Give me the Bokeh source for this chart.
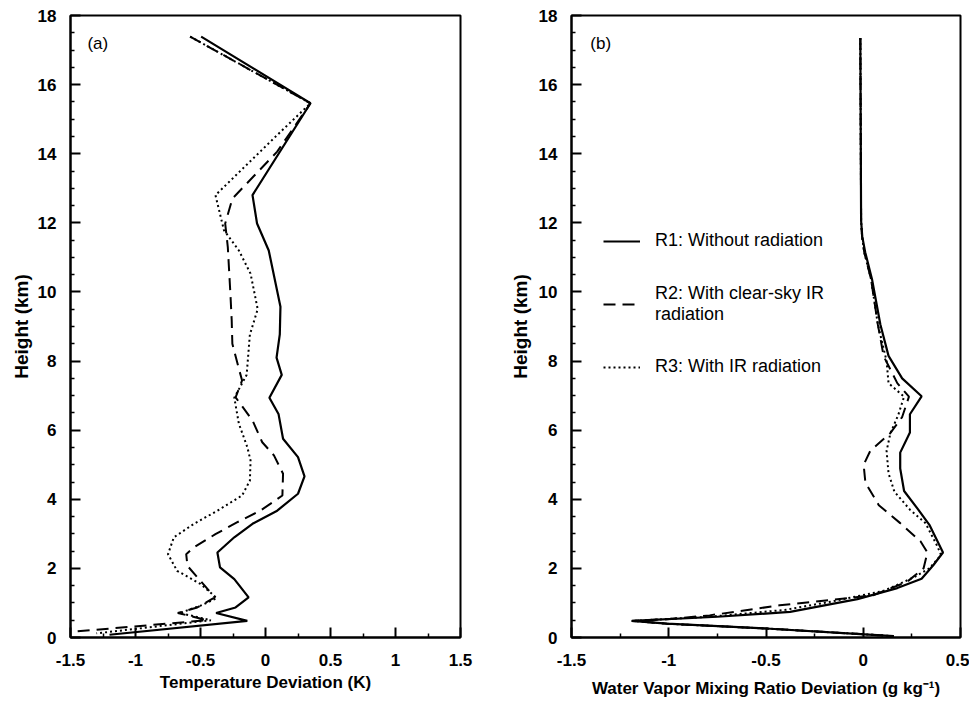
from bokeh.plotting import figure
from bokeh.layouts import row
from bokeh.models import FixedTicker, Legend, LegendItem, Label, Range1d
from bokeh.embed import file_html
from bokeh.resources import INLINE

FONT = "Liberation Sans"

# ---------------- Panel (a): temperature deviation (K) ----------------
a_r1_h = [17.39, 15.46, 12.8, 11.98, 11.2, 9.57, 8.77, 8.1, 7.6, 6.94, 6.47, 5.75, 5.22, 4.66,
          4.16, 3.67, 3.29, 2.90, 2.46, 2.03, 1.69, 1.16, 0.87, 0.71, 0.48, 0.08]
a_r1_x = [-0.495, 0.346, -0.10, -0.065, 0.025, 0.115, 0.11, 0.085, 0.125, 0.03, 0.10, 0.135, 0.25, 0.30,
          0.25, 0.09, -0.10, -0.24, -0.37, -0.35, -0.24, -0.13, -0.23, -0.38, -0.14, -1.2]

a_r2_h = [17.39, 15.46, 14.06, 12.7, 11.98, 11.3, 9.95, 9.18, 8.5, 7.85, 7.44, 6.95, 6.28, 5.65, 5.27,
          4.74, 4.11, 3.67, 3.33, 2.99, 2.61, 2.41, 2.07, 1.64, 1.16, 0.87, 0.71, 0.50, 0.17]
a_r2_x = [-0.58, 0.346, 0.09, -0.255, -0.31, -0.29, -0.27, -0.26, -0.255, -0.21, -0.18, -0.23, -0.10, -0.025, 0.065,
          0.135, 0.13, -0.04, -0.22, -0.385, -0.55, -0.61, -0.60, -0.50, -0.39, -0.525, -0.675, -0.45, -1.47]

a_r3_h = [17.39, 15.46, 14.54, 12.8, 11.79, 11.2, 10.53, 9.5, 8.77, 7.6, 6.94, 6.19, 5.51, 5.12, 4.54,
          4.11, 3.67, 3.29, 2.90, 2.41, 1.93, 1.55, 1.14, 0.92, 0.71, 0.50, 0.12]
a_r3_x = [-0.58, 0.346, 0.09, -0.385, -0.32, -0.205, -0.115, -0.06, -0.12, -0.145, -0.24, -0.205, -0.14, -0.115, -0.12,
          -0.18, -0.37, -0.55, -0.705, -0.75, -0.68, -0.50, -0.375, -0.50, -0.66, -0.42, -1.3]

# ---------------- Panel (b): water vapor mixing ratio deviation (g/kg) ----------------
b_r1_h = [17.35, 12.06, 11.6, 11.15, 10.37, 9.06, 8.15, 7.5, 6.98, 6.46, 5.93, 5.35, 4.89, 4.24, 3.72,
          3.26, 2.46, 2.09, 1.70, 1.43, 1.11, 0.74, 0.60, 0.48, 0.40, 0.26, 0.10, 0.04]
b_r1_x = [-0.015, -0.011, -0.005, 0.01, 0.045, 0.088, 0.13, 0.20, 0.30, 0.24, 0.24, 0.19, 0.19, 0.21, 0.28,
          0.34, 0.41, 0.36, 0.30, 0.175, -0.03, -0.376, -0.75, -1.19, -1.01, -0.50, -0.015, 0.157]

b_r2_h = [17.35, 12.06, 11.6, 11.15, 10.37, 9.06, 8.14, 7.36, 6.97, 6.38, 5.92, 5.40, 5.0, 4.48, 3.83,
          3.31, 2.78, 2.46, 2.0, 1.61, 1.22, 0.93, 0.64, 0.53, 0.48, 0.40, 0.26, 0.10, 0.04]
b_r2_x = [-0.015, -0.011, -0.006, 0.005, 0.04, 0.075, 0.105, 0.175, 0.235, 0.20, 0.14, 0.036, 0.002, 0.011, 0.08,
          0.19, 0.295, 0.33, 0.31, 0.225, 0.05, -0.43, -0.79, -1.01, -1.19, -1.01, -0.50, -0.015, 0.157]

b_r3_h = [17.35, 12.06, 11.6, 11.15, 10.37, 9.06, 8.0, 7.36, 6.97, 6.44, 5.92, 5.40, 4.75, 4.22, 3.70,
          3.31, 2.65, 2.39, 2.0, 1.74, 1.35, 1.05, 0.80, 0.60, 0.48, 0.40, 0.26, 0.10, 0.04]
b_r3_x = [-0.015, -0.011, -0.006, 0.005, 0.04, 0.075, 0.12, 0.13, 0.21, 0.18, 0.14, 0.12, 0.13, 0.16, 0.24,
          0.32, 0.38, 0.40, 0.34, 0.26, 0.105, -0.155, -0.40, -0.79, -1.19, -1.01, -0.50, -0.015, 0.157]

# ---------------- ticks and labels ----------------
a_xticks = [-1.5, -1, -0.5, 0, 0.5, 1, 1.5]
a_xtick_labels = ["-1.5", "-1", "-0.5", "0", "0.5", "1", "1.5"]
a_xminor = [-1.25, -0.75, -0.25, 0.25, 0.75, 1.25]
b_xticks = [-1.5, -1, -0.5, 0, 0.5]
b_xtick_labels = ["-1.5", "-1", "-0.5", "0", "0.5"]
b_xminor = [-1.25, -0.75, -0.25, 0.25]
yticks = [0, 2, 4, 6, 8, 10, 12, 14, 16, 18]
ytick_labels = ["0", "2", "4", "6", "8", "10", "12", "14", "16", "18"]
yminor = [v * 0.5 for v in range(0, 37) if v % 4 != 0]

series_names = ["R1: Without radiation", "R2: With clear-sky IR\nradiation", "R3: With IR radiation"]

SOLID = dict(line_color="black", line_width=2.2)
DASH = dict(line_color="black", line_width=2.0, line_dash="12 7")
DOT = dict(line_color="black", line_width=2.0, line_dash="2 3")


def style(p, xt, xl, xm, xlabel, x_std, xl_std, y_std, yl_std):
    p.outline_line_color = "black"
    p.outline_line_width = 2
    p.xgrid.visible = False
    p.ygrid.visible = False
    p.background_fill_color = "white"
    p.border_fill_color = "white"
    p.xaxis.ticker = FixedTicker(ticks=xt, minor_ticks=xm)
    p.xaxis.major_label_overrides = {t: s for t, s in zip(xt, xl)}
    p.yaxis.ticker = FixedTicker(ticks=yticks, minor_ticks=yminor)
    p.yaxis.major_label_overrides = {t: s for t, s in zip(yticks, ytick_labels)}
    for ax in (p.xaxis, p.yaxis):
        ax.axis_line_width = 2
        ax.axis_line_color = "black"
        ax.major_tick_in = 10
        ax.major_tick_out = 0
        ax.minor_tick_in = 4
        ax.minor_tick_out = 0
        ax.major_tick_line_width = 2
        ax.minor_tick_line_width = 1.5
        ax.major_label_text_font = FONT
        ax.major_label_text_font_size = "17px"
        ax.major_label_text_font_style = "bold"
        ax.major_label_text_color = "black"
        ax.axis_label_text_font = FONT
        ax.axis_label_text_color = "black"
    p.xaxis.axis_label = xlabel
    p.xaxis.axis_label_text_font_size = "17px"
    p.xaxis.axis_label_text_font_style = "bold"
    p.xaxis.major_label_standoff = x_std
    p.xaxis.axis_label_standoff = xl_std
    p.yaxis.axis_label = "Height (km)"
    p.yaxis.axis_label_text_font_size = "19px"
    p.yaxis.axis_label_text_font_style = "bold"
    p.yaxis.major_label_standoff = y_std
    p.yaxis.axis_label_standoff = yl_std


pa = figure(width=488, height=700, x_range=Range1d(-1.5, 1.5), y_range=Range1d(0, 18),
            output_backend="svg", toolbar_location=None,
            min_border_left=70, min_border_right=28, min_border_top=15, min_border_bottom=63)
style(pa, a_xticks, a_xtick_labels, a_xminor, "Temperature Deviation (K)", 16, 4, 14, 3)
pa.line(a_r1_x, a_r1_h, **SOLID)
pa.line(a_r2_x, a_r2_h, **DASH)
pa.line(a_r3_x, a_r3_h, **DOT)
pa.add_layout(Label(x=-1.29, y=17.2, text="(a)", text_align="center", text_baseline="middle",
                    text_font=FONT, text_font_size="17px", text_color="black"))

pb = figure(width=481, height=700, x_range=Range1d(-1.5, 0.5), y_range=Range1d(0, 18),
            output_backend="svg", toolbar_location=None,
            min_border_left=83, min_border_right=9, min_border_top=15, min_border_bottom=62)
style(pb, b_xticks, b_xtick_labels, b_xminor, "Water Vapor Mixing Ratio Deviation (g kg\u207b\u00b9)", 16, 10, 14, 5)
rb1 = pb.line(b_r1_x, b_r1_h, **SOLID)
rb2 = pb.line(b_r2_x, b_r2_h, **DASH)
rb3 = pb.line(b_r3_x, b_r3_h, **DOT)
pb.add_layout(Label(x=-1.35, y=17.2, text="(b)", text_align="center", text_baseline="middle",
                    text_font=FONT, text_font_size="17px", text_color="black"))

leg_pos = [(32, 386), (32, 312), (32, 260)]
for name, rend, loc in zip(series_names, [rb1, rb2, rb3], leg_pos):
    leg = Legend(items=[LegendItem(label=name, renderers=[rend])], location=loc,
                 padding=0, margin=0, spacing=0, border_line_alpha=0, background_fill_alpha=0,
                 glyph_width=37, glyph_height=20, label_standoff=15, label_height=20,
                 label_text_font=FONT, label_text_font_size="18px", label_text_color="black")
    pb.add_layout(leg, "center")

layout = row(pa, pb)
open("out.html", "w").write(file_html(layout, INLINE))
